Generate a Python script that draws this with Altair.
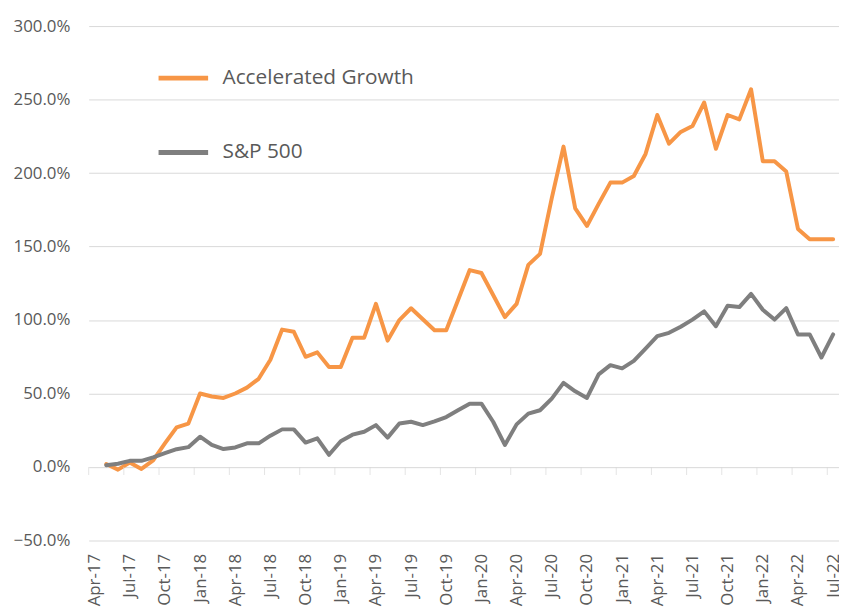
import altair as alt
import pandas as pd

months = ["Apr-17", "May-17", "Jun-17", "Jul-17", "Aug-17", "Sep-17", "Oct-17", "Nov-17", "Dec-17",
          "Jan-18", "Feb-18", "Mar-18", "Apr-18", "May-18", "Jun-18", "Jul-18", "Aug-18", "Sep-18",
          "Oct-18", "Nov-18", "Dec-18", "Jan-19", "Feb-19", "Mar-19", "Apr-19", "May-19", "Jun-19",
          "Jul-19", "Aug-19", "Sep-19", "Oct-19", "Nov-19", "Dec-19", "Jan-20", "Feb-20", "Mar-20",
          "Apr-20", "May-20", "Jun-20", "Jul-20", "Aug-20", "Sep-20", "Oct-20", "Nov-20", "Dec-20",
          "Jan-21", "Feb-21", "Mar-21", "Apr-21", "May-21", "Jun-21", "Jul-21", "Aug-21", "Sep-21",
          "Oct-21", "Nov-21", "Dec-21", "Jan-22", "Feb-22", "Mar-22", "Apr-22", "May-22", "Jun-22",
          "Jul-22"]

accelerated_growth = [None, 2.0, -1.8, 3.0, -1.3, 4.5, 16, 27, 29.5, 50, 48, 47, 50, 54, 60, 73,
                      93.5, 92, 75, 78, 68, 68, 88, 88, 111, 86, 100, 108, 100.5, 93, 93, 113.5,
                      134, 132, 117, 102, 111, 137.5, 145, 183, 218, 176, 164, 179, 193.5, 193.5,
                      198, 213, 239.5, 220, 228, 232, 248, 216.5, 239.5, 236.5, 257, 208, 208,
                      201, 162, 155, 155, 155]

sp500 = [None, 1.2, 2.2, 4.2, 4.2, 6.5, 9.4, 12.1, 13.5, 20.6, 15, 12.2, 13.3, 16.1, 16.1, 21.3,
         25.6, 25.6, 16.6, 19.5, 8.3, 17.5, 22, 24, 28.5, 20, 29.6, 30.8, 28.5, 31, 34, 38.6,
         43.1, 43.1, 30.8, 15, 29, 36.3, 38.6, 46.5, 57.2, 51.5, 47, 63, 69.3, 67.1, 72.2, 80.6,
         89, 91.3, 95.4, 100.3, 105.9, 95.8, 109.7, 108.8, 117.8, 107, 100.3, 108.1, 90.2, 90.2,
         74.5, 90.2]

series_names = ["Accelerated Growth", "S&P 500"]
y_ticks = [-50, 0, 50, 100, 150, 200, 250, 300]
label_every = 3

ORANGE = "#F79646"
GRAY = "#7F7F7F"
TEXT = "#595959"
GRID = "#D9D9D9"
FONT = "Open Sans"

rows = []
for i, m in enumerate(months):
    for name, vals in zip(series_names, [accelerated_growth, sp500]):
        if vals[i] is not None:
            rows.append({"idx": i, "month": m, "series": name, "value": vals[i]})
df = pd.DataFrame(rows)

n = len(months)
label_values = list(range(0, n, label_every))
# axis tick marks sit on category boundaries, just before each labelled month
tick_df = pd.DataFrame({"pos": [v - 0.5 for v in label_values], "zero": [0] * len(label_values)})

W, H = 757, 519
arr = "[" + ",".join("'" + m + "'" for m in months) + "]"

x_scale = alt.Scale(domain=[-0.5, n - 0.5], nice=False, zero=False)
y_scale = alt.Scale(domain=[-50, 300], nice=False)

x_axis = alt.Axis(
    values=label_values,
    labelExpr=arr + "[datum.value]",
    labelAngle=270,
    labelFont=FONT, labelFontSize=17, labelColor=TEXT,
    domain=False, ticks=False,
    labelPadding=13,
    grid=False, title=None, labelOverlap=False, labelBound=False, labelFlush=False,
)

y_axis = alt.Axis(
    values=y_ticks,
    labelExpr="format(datum.value, '.1f') + '%'",
    labelFont=FONT, labelFontSize=17, labelColor=TEXT,
    domain=False, ticks=False, labelPadding=19,
    grid=True, gridColor=GRID, gridWidth=1,
    title=None,
)

lines = alt.Chart(df).mark_line(strokeWidth=4, strokeJoin="round", strokeCap="round").encode(
    x=alt.X("idx:Q", scale=x_scale, axis=x_axis),
    y=alt.Y("value:Q", scale=y_scale, axis=y_axis),
    color=alt.Color(
        "series:N",
        scale=alt.Scale(domain=series_names, range=[ORANGE, GRAY]),
        legend=alt.Legend(
            orient="none", legendX=68, legendY=25, direction="vertical", title=None,
            symbolType="stroke", symbolSize=2500, symbolStrokeWidth=5,
            labelFont=FONT, labelFontSize=21, labelColor=TEXT, labelLimit=0,
            rowPadding=37, labelOffset=12, padding=0,
        ),
    ),
    order="idx:Q",
)

ticks = alt.Chart(tick_df).mark_tick(
    orient="vertical", size=8, thickness=1, yOffset=4, color=GRID
).encode(
    x=alt.X("pos:Q", scale=x_scale, axis=x_axis),
    y=alt.Y("zero:Q", scale=y_scale, axis=y_axis),
)

chart = alt.layer(lines, ticks).properties(
    width=W, height=H,
    autosize=alt.AutoSizeParams(type="none"),
    padding={"left": 81.4, "top": 15.5, "right": 0, "bottom": 80},
    background="white",
).configure_view(stroke=None).configure_axis(labelOverlap=False)

chart.save("out.html", embed_options={"renderer": "svg", "actions": False})
